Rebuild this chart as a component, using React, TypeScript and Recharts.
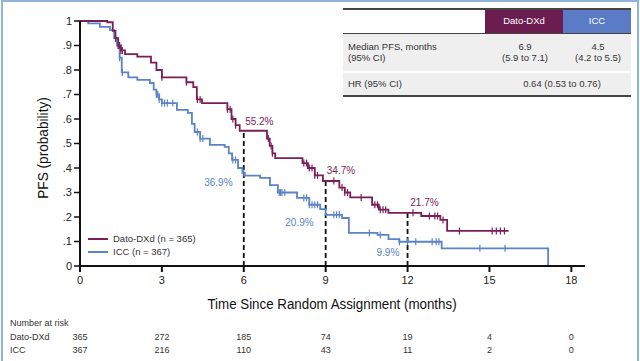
import React from 'react';
import { LineChart, Line, XAxis, YAxis, ReferenceLine, ReferenceDot } from 'recharts';

const DATO = '#7a1e57';
const ICC = '#5a83c8';
const HEAD_DATO = '#6b1d50';
const HEAD_ICC = '#5b7bc7';

const datoTimes = [0, 1.0, 1.2, 1.3, 1.4, 1.5, 1.65, 2.1, 2.6, 2.8, 3.0, 3.9, 4.15, 4.28, 4.47, 5.4, 5.55, 5.7, 5.85, 6.85, 6.95, 7.05, 7.15, 8.15, 8.35, 8.6, 8.9, 9.5, 9.7, 9.9, 10.7, 10.95, 11.3, 12.5, 13.2, 13.45, 15.7];
const datoSurv = [1, 0.995, 0.96, 0.93, 0.9, 0.88, 0.865, 0.855, 0.83, 0.8, 0.77, 0.75, 0.73, 0.68, 0.665, 0.64, 0.6, 0.575, 0.552, 0.52, 0.49, 0.46, 0.44, 0.42, 0.4, 0.37, 0.347, 0.32, 0.3, 0.28, 0.25, 0.23, 0.217, 0.204, 0.188, 0.143, 0.143];

const iccTimes = [0, 0.3, 0.73, 1.1, 1.25, 1.35, 1.45, 1.53, 1.77, 2.1, 2.56, 2.7, 2.8, 2.9, 3.0, 3.55, 3.95, 4.1, 4.2, 4.4, 4.76, 5.3, 5.45, 5.57, 5.79, 5.95, 6.04, 6.6, 6.96, 7.25, 7.95, 8.4, 8.8, 9.0, 9.6, 9.85, 10.9, 11.3, 11.7, 13.25, 17.15];
const iccSurv = [1, 0.99, 0.976, 0.963, 0.93, 0.9, 0.85, 0.79, 0.77, 0.76, 0.747, 0.72, 0.7, 0.68, 0.665, 0.637, 0.625, 0.58, 0.547, 0.52, 0.494, 0.486, 0.46, 0.433, 0.4, 0.38, 0.369, 0.36, 0.33, 0.3, 0.278, 0.25, 0.232, 0.209, 0.196, 0.135, 0.127, 0.11, 0.099, 0.072, 0];

const datoCensor = [1.3, 1.4, 1.45, 1.5, 1.55, 3.0, 3.9, 4.3, 4.4, 5.4, 5.5, 5.6, 5.7, 6.9, 7.0, 7.05, 8.2, 8.3, 8.4, 8.5, 8.6, 8.7, 9.3, 9.6, 9.7, 9.8, 10.3, 10.8, 10.9, 11.0, 11.1, 11.2, 12.2, 12.8, 13.0, 13.1, 13.3, 13.9, 15.1, 15.25, 15.4, 15.55];
const iccCensor = [1.3, 1.4, 1.45, 1.55, 2.8, 2.85, 2.9, 3.0, 3.1, 3.2, 3.4, 4.3, 4.4, 4.5, 5.6, 5.7, 6.0, 7.3, 7.35, 7.4, 7.5, 8.2, 8.3, 8.4, 8.5, 8.6, 8.7, 9.3, 9.4, 9.5, 10.6, 11.0, 11.7, 12.0, 12.3, 12.9, 13.05, 13.15, 14.65, 15.57];

const xTicks = [0, 3, 6, 9, 12, 15, 18];
const yTicks = [0, 0.1, 0.2, 0.3, 0.4, 0.5, 0.6, 0.7, 0.8, 0.9, 1];

const landmarkTimes = [6, 9, 12];
const landmarkTop = [0.552, 0.347, 0.217];

const annoText = ['55.2%', '36.9%', '34.7%', '20.9%', '21.7%', '9.9%'];
const annoT = [6.57, 5.07, 9.56, 8.04, 12.62, 11.28];
const annoP = [0.588, 0.339, 0.388, 0.176, 0.261, 0.057];
const annoGroup = ['dato', 'icc', 'dato', 'icc', 'dato', 'icc'];

const riskLabels = ['Dato-DXd', 'ICC'];
const riskDato = [365, 272, 185, 74, 19, 4, 0];
const riskIcc = [367, 216, 110, 43, 11, 2, 0];

const toPoints = (ts: number[], ps: number[]) => ts.map((t, i) => ({ t, p: ps[i] }));
const stepAt = (ts: number[], ps: number[], t: number) => {
  let v = ps[0];
  for (let i = 0; i < ts.length; i++) if (ts[i] <= t) v = ps[i];
  return v;
};
const censorPoints = (cs: number[], ts: number[], ps: number[]) => cs.map((t) => ({ t, p: stepAt(ts, ps, t) }));

const datoData = toPoints(datoTimes, datoSurv);
const iccData = toPoints(iccTimes, iccSurv);
const datoCens = censorPoints(datoCensor, datoTimes, datoSurv);
const iccCens = censorPoints(iccCensor, iccTimes, iccSurv);

const tickMark = (color: string) => (props: any) => {
  const { cx, cy, index } = props;
  if (cx == null || cy == null) return <g key={index} />;
  return <line key={index} x1={cx} x2={cx} y1={cy - 3.5} y2={cy + 3.5} stroke={color} strokeWidth={1.2} />;
};

const fmtY = (v: number) => (v === 0 ? '0' : v === 1 ? '1' : '.' + Math.round(v * 10));

// layout constants
const PLOT_LEFT = 80;
const PLOT_RIGHT = 585;
const X_MAX = 18.5;
const xPix = (t: number) => PLOT_LEFT + (t / X_MAX) * (PLOT_RIGHT - PLOT_LEFT);

const txt: React.CSSProperties = { position: 'absolute', whiteSpace: 'nowrap', color: '#333', lineHeight: 1 };

export default function App() {
  return (
    <div style={{ position: 'absolute', left: 0, top: 0, width: 640, height: 361, background: '#fff', fontFamily: "'Liberation Sans', Arial, sans-serif", overflow: 'hidden' }}>
      <div style={{ position: 'absolute', left: 1, top: 0, width: 634, height: 370, borderLeft: '2px solid #8fb4d8', borderTop: '2px solid #8fb4d8', borderRight: '2px solid #8fb4d8' }} />
      <LineChart width={640} height={361} margin={{ top: 21, right: 55, bottom: 65, left: 40 }}>
        <XAxis
          type="number"
          dataKey="t"
          domain={[0, X_MAX]}
          ticks={xTicks}
          allowDataOverflow
          height={30}
          tickSize={6}
          tickMargin={4}
          axisLine={{ stroke: '#111', strokeWidth: 2 }}
          tickLine={{ stroke: '#111', strokeWidth: 2 }}
          tick={{ fill: '#222', fontSize: 11 }}
        />
        <YAxis
          type="number"
          domain={[0, 1]}
          ticks={yTicks}
          width={40}
          tickSize={6}
          tickFormatter={fmtY}
          axisLine={{ stroke: '#111', strokeWidth: 2 }}
          tickLine={{ stroke: '#111', strokeWidth: 1.5 }}
          tick={{ fill: '#222', fontSize: 11 }}
        />
        {landmarkTimes.map((t, i) => (
          <ReferenceLine key={'lm' + i} segment={[{ x: t, y: 0 }, { x: t, y: landmarkTop[i] }]} stroke="#111" strokeWidth={1.8} strokeDasharray="5 3" />
        ))}
        <Line data={iccData} dataKey="p" type="stepAfter" stroke={ICC} strokeWidth={1.8} dot={false} isAnimationActive={false} />
        <Line data={datoData} dataKey="p" type="stepAfter" stroke={DATO} strokeWidth={1.8} dot={false} isAnimationActive={false} />
        <Line data={iccCens} dataKey="p" stroke="none" dot={tickMark(ICC)} activeDot={false} isAnimationActive={false} />
        <Line data={datoCens} dataKey="p" stroke="none" dot={tickMark(DATO)} activeDot={false} isAnimationActive={false} />
        {annoText.map((s, i) => (
          <ReferenceDot
            key={'an' + i}
            x={annoT[i]}
            y={annoP[i]}
            r={0}
            fill="none"
            stroke="none"
            label={{ value: s, position: 'center', fill: annoGroup[i] === 'dato' ? DATO : ICC, fontSize: 10 }}
          />
        ))}
      </LineChart>

      {/* axis titles */}
      <div style={{ ...txt, left: 332, top: 304, transform: 'translate(-50%, -50%) scaleX(0.86)', fontSize: 15.5, color: '#111' }}>
        Time Since Random Assignment (months)
      </div>
      <div style={{ ...txt, left: 43, top: 148, transform: 'translate(-50%, -50%) rotate(-90deg) scaleX(0.88)', fontSize: 15.5, color: '#111' }}>
        PFS (probability)
      </div>

      {/* legend */}
      <div style={{ position: 'absolute', left: 88, top: 238, width: 20, height: 2, background: DATO }} />
      <div style={{ position: 'absolute', left: 88, top: 251, width: 20, height: 2, background: ICC }} />
      <div style={{ ...txt, left: 113, top: 239, transform: 'translateY(-50%)', fontSize: 9.5 }}>Dato-DXd (n = 365)</div>
      <div style={{ ...txt, left: 113, top: 252, transform: 'translateY(-50%)', fontSize: 9.5 }}>ICC (n = 367)</div>

      {/* number at risk */}
      <div style={{ ...txt, left: 10, top: 323, transform: 'translateY(-50%)', fontSize: 9 }}>Number at risk</div>
      <div style={{ ...txt, left: 10, top: 337, transform: 'translateY(-50%)', fontSize: 9 }}>{riskLabels[0]}</div>
      <div style={{ ...txt, left: 10, top: 350, transform: 'translateY(-50%)', fontSize: 9 }}>{riskLabels[1]}</div>
      {xTicks.map((t, i) => (
        <React.Fragment key={'r' + i}>
          <div style={{ ...txt, left: xPix(t), top: 337, transform: 'translate(-50%, -50%)', fontSize: 9 }}>{riskDato[i]}</div>
          <div style={{ ...txt, left: xPix(t), top: 350, transform: 'translate(-50%, -50%)', fontSize: 9 }}>{riskIcc[i]}</div>
        </React.Fragment>
      ))}

      {/* summary table */}
      <div style={{ position: 'absolute', left: 343, top: 8, width: 288, height: 2, background: '#444' }} />
      <div style={{ position: 'absolute', left: 485, top: 10, width: 78, height: 23, background: HEAD_DATO }} />
      <div style={{ position: 'absolute', left: 563, top: 10, width: 68, height: 23, background: HEAD_ICC }} />
      <div style={{ position: 'absolute', left: 343, top: 33, width: 288, height: 1, background: '#444' }} />
      <div style={{ position: 'absolute', left: 343, top: 34, width: 288, height: 37, background: '#efefef' }} />
      <div style={{ position: 'absolute', left: 343, top: 73, width: 288, height: 22, background: '#efefef' }} />
      <div style={{ position: 'absolute', left: 343, top: 95, width: 288, height: 2, background: '#444' }} />
      <div style={{ ...txt, left: 524, top: 21, transform: 'translate(-50%, -50%)', fontSize: 9.5, color: '#fff' }}>Dato-DXd</div>
      <div style={{ ...txt, left: 597, top: 21, transform: 'translate(-50%, -50%)', fontSize: 9.5, color: '#fff' }}>ICC</div>
      <div style={{ ...txt, left: 348, top: 47, transform: 'translateY(-50%)', fontSize: 9.5 }}>Median PFS, months</div>
      <div style={{ ...txt, left: 348, top: 58, transform: 'translateY(-50%)', fontSize: 9.5 }}>(95% CI)</div>
      <div style={{ ...txt, left: 525, top: 47, transform: 'translate(-50%, -50%)', fontSize: 9.5 }}>6.9</div>
      <div style={{ ...txt, left: 525, top: 58, transform: 'translate(-50%, -50%)', fontSize: 9.5 }}>(5.9 to 7.1)</div>
      <div style={{ ...txt, left: 598, top: 47, transform: 'translate(-50%, -50%)', fontSize: 9.5 }}>4.5</div>
      <div style={{ ...txt, left: 598, top: 58, transform: 'translate(-50%, -50%)', fontSize: 9.5 }}>(4.2 to 5.5)</div>
      <div style={{ ...txt, left: 348, top: 84, transform: 'translateY(-50%)', fontSize: 9.5 }}>HR (95% CI)</div>
      <div style={{ ...txt, left: 562, top: 84, transform: 'translate(-50%, -50%)', fontSize: 9.5 }}>0.64 (0.53 to 0.76)</div>
    </div>
  );
}
